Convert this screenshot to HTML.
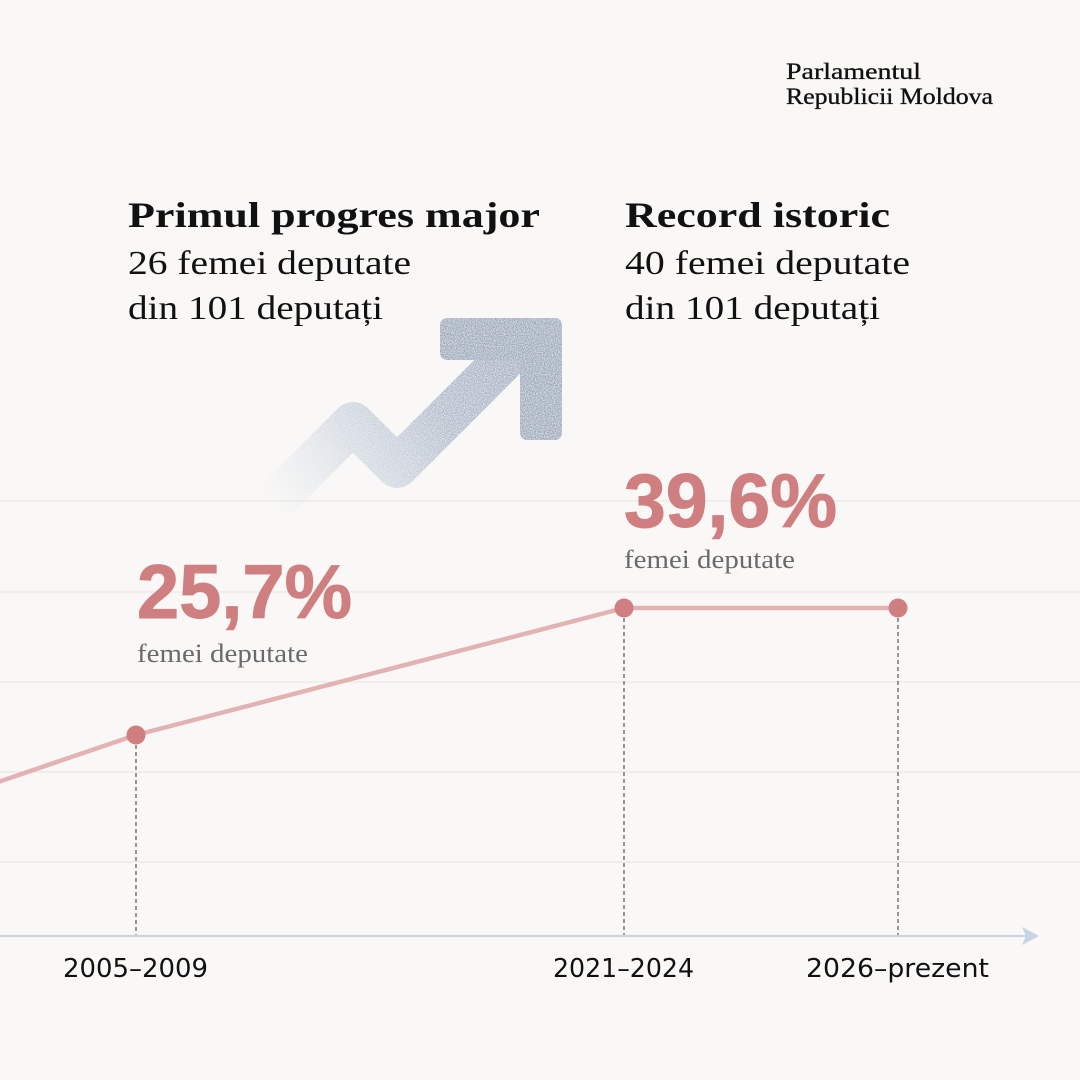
<!DOCTYPE html>
<html><head><meta charset="utf-8"><style>
html,body{margin:0;padding:0;background:#f9f8f6;}
svg{display:block;}
</style></head><body>
<svg width="1080" height="1080" viewBox="0 0 1080 1080" xmlns="http://www.w3.org/2000/svg">
<defs>
<linearGradient id="ag" x1="270" y1="510" x2="560" y2="320" gradientUnits="userSpaceOnUse">
<stop offset="0" stop-color="#dfe4eb" stop-opacity="0"/>
<stop offset="0.3" stop-color="#cbd3de" stop-opacity="0.75"/>
<stop offset="0.55" stop-color="#b3bdcc" stop-opacity="1"/>
<stop offset="1" stop-color="#9eaabc" stop-opacity="1"/>
</linearGradient>
<filter id="grain" x="0" y="0" width="100%" height="100%">
<feTurbulence type="fractalNoise" baseFrequency="0.9" numOctaves="1" seed="3" result="n"/>
<feColorMatrix in="n" type="matrix" values="0 0 0 0 1  0 0 0 0 1  0 0 0 0 1  0 0 0 -1.6 1.0" result="w"/>
<feComposite in="w" in2="SourceGraphic" operator="in" result="wm"/>
<feMerge><feMergeNode in="SourceGraphic"/><feMergeNode in="wm"/></feMerge>
</filter>
</defs>
<rect width="1080" height="1080" fill="#f9f8f6"/>

<!-- gridlines -->
<g stroke="#e9e7e4" stroke-width="1.2">
<line x1="0" y1="501" x2="1080" y2="501"/>
<line x1="0" y1="592" x2="1080" y2="592"/>
<line x1="0" y1="682" x2="1080" y2="682"/>
<line x1="0" y1="772" x2="1080" y2="772"/>
<line x1="0" y1="862" x2="1080" y2="862"/>
</g>

<!-- arrow graphic -->
<g filter="url(#grain)">
<polyline points="262,514 353,423 397,467 536,328" fill="none" stroke="url(#ag)" stroke-width="42" stroke-linejoin="round" stroke-linecap="butt"/>
<path d="M448,318 H554 Q562,318 562,326 V432 Q562,440 554,440 H528 Q520,440 520,432 V360 H448 Q440,360 440,352 V326 Q440,318 448,318 Z" fill="#9eaabc"/>
</g>

<!-- logo -->
<g font-family="'Liberation Serif','DejaVu Serif',serif" fill="#111" font-size="23" stroke="#111" stroke-width="0.35">
<text x="786" y="79" textLength="135" lengthAdjust="spacingAndGlyphs">Parlamentul</text>
<text x="786" y="104" textLength="207" lengthAdjust="spacingAndGlyphs">Republicii Moldova</text>
</g>

<!-- headings -->
<g font-family="'Liberation Serif','DejaVu Serif',serif" fill="#111">
<text x="128" y="227" font-size="36" font-weight="bold" textLength="412" lengthAdjust="spacingAndGlyphs">Primul progres major</text>
<text x="128" y="274" font-size="34" textLength="283" lengthAdjust="spacingAndGlyphs">26 femei deputate</text>
<text x="128" y="319" font-size="34" textLength="255" lengthAdjust="spacingAndGlyphs">din 101 deputați</text>
<text x="625" y="227" font-size="36" font-weight="bold" textLength="265" lengthAdjust="spacingAndGlyphs">Record istoric</text>
<text x="625" y="274" font-size="34" textLength="285" lengthAdjust="spacingAndGlyphs">40 femei deputate</text>
<text x="625" y="319" font-size="34" textLength="255" lengthAdjust="spacingAndGlyphs">din 101 deputați</text>
</g>

<!-- big percentages -->
<g font-family="'Liberation Sans','DejaVu Sans',sans-serif" font-weight="bold" fill="#d07f80" font-size="76" stroke="#d07f80" stroke-width="1">
<text x="137" y="618" textLength="215" lengthAdjust="spacingAndGlyphs">25,7%</text>
<text x="624" y="527" textLength="213" lengthAdjust="spacingAndGlyphs">39,6%</text>
</g>
<g font-family="'Liberation Serif','DejaVu Serif',serif" fill="#6a6a6a" font-size="26">
<text x="137" y="662" textLength="171" lengthAdjust="spacingAndGlyphs">femei deputate</text>
<text x="624" y="568" textLength="171" lengthAdjust="spacingAndGlyphs">femei deputate</text>
</g>

<!-- dashed verticals -->
<g stroke="#6b6b6b" stroke-width="1.4" stroke-dasharray="4,3">
<line x1="136" y1="745" x2="136" y2="935"/>
<line x1="624" y1="618" x2="624" y2="935"/>
<line x1="898" y1="618" x2="898" y2="935"/>
</g>

<!-- axis -->
<line x1="0" y1="936" x2="1026" y2="936" stroke="#c7d4e4" stroke-width="2.2"/>
<path d="M1022,927 L1039,936 L1022,945 L1026,936 Z" fill="#c7d4e4"/>

<!-- data line -->
<polyline points="-2,782 136,735 624,608 898,608" fill="none" stroke="#e3b3b3" stroke-width="4.5" stroke-linejoin="round"/>
<g fill="#d07f80">
<circle cx="136" cy="735" r="9.5"/>
<circle cx="624" cy="608" r="9.5"/>
<circle cx="898" cy="608" r="9.5"/>
</g>

<!-- axis labels -->
<g font-family="'DejaVu Sans','Liberation Sans',sans-serif" fill="#111" font-size="26">
<text x="63" y="977" textLength="145" lengthAdjust="spacingAndGlyphs">2005–2009</text>
<text x="553" y="977" textLength="141" lengthAdjust="spacingAndGlyphs">2021–2024</text>
<text x="806" y="977" textLength="183" lengthAdjust="spacingAndGlyphs">2026–prezent</text>
</g>
</svg>
</body></html>
